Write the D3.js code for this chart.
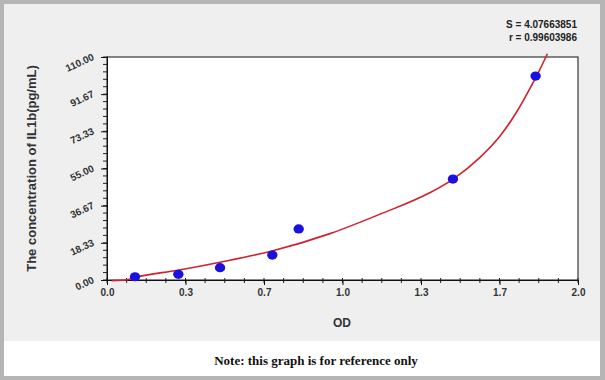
<!DOCTYPE html>
<html><head><meta charset="utf-8">
<script src="https://cdn.jsdelivr.net/npm/d3@7/dist/d3.min.js"></script>
<style>html,body{margin:0;padding:0;background:#fff;}svg{display:block;}</style>
</head><body>
<script>
// Data
const pointOD   = [0.119, 0.303, 0.480, 0.702, 0.814, 1.469, 1.820];
const pointConc = [1.6, 2.8, 6.1, 12.3, 25.2, 49.8, 100.6];
const curveOD   = [0.02, 0.08, 0.12, 0.30, 0.48, 0.70, 0.95, 1.16, 1.37, 1.47, 1.584, 1.669, 1.740, 1.796, 1.825, 1.870];
const curveConc = [-0.3, 0.0, 1.3, 4.8, 8.8, 14.3, 23.0, 32.5, 43.0, 49.8, 60.5, 71.0, 83.0, 94.5, 100.8, 111.6];
const xTickValues = [0, 1/3, 2/3, 1, 4/3, 5/3, 2];
const xTickLabels = ["0.0", "0.3", "0.7", "1.0", "1.3", "1.7", "2.0"];
const yTickValues = [0, 18.33, 36.67, 55, 73.33, 91.67, 110];
const yTickLabels = ["0.00", "18.33", "36.67", "55.00", "73.33", "91.67", "110.00"];
const statLines = ["S = 4.07663851", "r = 0.99603986"];

const W = 605, H = 380;
const svg = d3.select("body").append("svg").attr("width", W).attr("height", H);

// frame
svg.append("rect").attr("x",0).attr("y",0).attr("width",W).attr("height",H).attr("fill","#b5b5b5");
svg.append("rect").attr("x",4).attr("y",4).attr("width",W-9).attr("height",H-8).attr("fill","#efefef");
svg.append("rect").attr("x",4).attr("y",341).attr("width",W-9).attr("height",35).attr("fill","#ffffff");

const L = 107, R = 578, T = 57, B = 280;
const x = d3.scaleLinear().domain([0, 2]).range([L, R]);
const y = d3.scaleLinear().domain([0, 110]).range([B, T]);

svg.append("rect").attr("x",L).attr("y",T).attr("width",R-L).attr("height",B-T)
  .attr("fill","#fff").attr("stroke","#111").attr("stroke-width",1);

// minor ticks
const xMinor = d3.range(0, 25).map(i => i/12);
const yMinor = d3.range(0, 31).map(i => i*110/30);
svg.append("g").selectAll("line").data(xMinor).join("line")
  .attr("x1", d => x(d)).attr("x2", d => x(d)).attr("y1", B-2).attr("y2", B+3)
  .attr("stroke","#222").attr("stroke-width",1);
svg.append("g").selectAll("line").data(yMinor).join("line")
  .attr("y1", d => y(d)).attr("y2", d => y(d)).attr("x1", L-4).attr("x2", L+1)
  .attr("stroke","#222").attr("stroke-width",1);

// x axis
const xAxis = d3.axisBottom(x).tickValues(xTickValues)
  .tickFormat((d,i) => xTickLabels[i]).tickSizeInner(5).tickSizeOuter(0).tickPadding(4);
const gx = svg.append("g").attr("transform",`translate(0,${B})`).call(xAxis);
gx.select(".domain").attr("stroke","#111");
gx.selectAll(".tick line").attr("stroke","#111");
gx.selectAll("text").attr("font-family","Liberation Sans, Arial, sans-serif")
  .attr("font-size","10px").attr("font-weight","bold").attr("fill","#333");

// y axis
const yAxis = d3.axisLeft(y).tickValues(yTickValues)
  .tickFormat((d,i) => yTickLabels[i]).tickSizeInner(6).tickSizeOuter(0).tickPadding(4);
const gy = svg.append("g").attr("transform",`translate(${L},0)`).call(yAxis);
gy.select(".domain").attr("stroke","#111");
gy.selectAll(".tick line").attr("stroke","#111");
gy.selectAll("text").attr("font-family","Liberation Sans, Arial, sans-serif")
  .attr("font-size","10px").attr("font-weight","bold").attr("fill","#333")
  .attr("dy","0.2em").attr("x",-13).attr("transform","rotate(-25,-13,0)");

// curve
const curveData = curveOD.map((d,i) => [d, curveConc[i]]);
svg.append("path").datum(curveData)
  .attr("d", d3.line().x(d => x(d[0])).y(d => y(d[1])).curve(d3.curveMonotoneX))
  .attr("fill","none").attr("stroke","#d2202e").attr("stroke-width",1.6);

// points
svg.append("g").selectAll("ellipse").data(pointOD).join("ellipse")
  .attr("cx", d => x(d)).attr("cy", (d,i) => y(pointConc[i]))
  .attr("rx",5.2).attr("ry",4.6).attr("fill","#1a10e0");

// titles
svg.append("text").attr("transform",`translate(31,${(T+B)/2}) rotate(-90)`)
  .attr("text-anchor","middle").attr("dy","0.35em")
  .attr("font-family","Liberation Sans, Arial, sans-serif").attr("font-size","13px")
  .attr("font-weight","bold").attr("fill","#333")
  .text("The concentration of IL1b(pg/mL)");
svg.append("text").attr("x", 342).attr("y", 323).attr("dy","0.35em")
  .attr("text-anchor","middle")
  .attr("font-family","Liberation Sans, Arial, sans-serif").attr("font-size","12px")
  .attr("font-weight","bold").attr("fill","#333").text("OD");

svg.append("g").selectAll("text").data(statLines).join("text")
  .attr("x", 577).attr("y", (d,i) => 24 + i*13.5).attr("dy","0.35em")
  .attr("text-anchor","end")
  .attr("font-family","Liberation Sans, Arial, sans-serif").attr("font-size","10px")
  .attr("font-weight","bold").attr("fill","#222").text(d => d);

svg.append("text").attr("x", 316).attr("y", 360).attr("dy","0.35em")
  .attr("text-anchor","middle")
  .attr("font-family","Liberation Serif, Times New Roman, serif").attr("font-size","13px")
  .attr("font-weight","bold").attr("fill","#111").text("Note: this graph is for reference only");
</script>
</body></html>
